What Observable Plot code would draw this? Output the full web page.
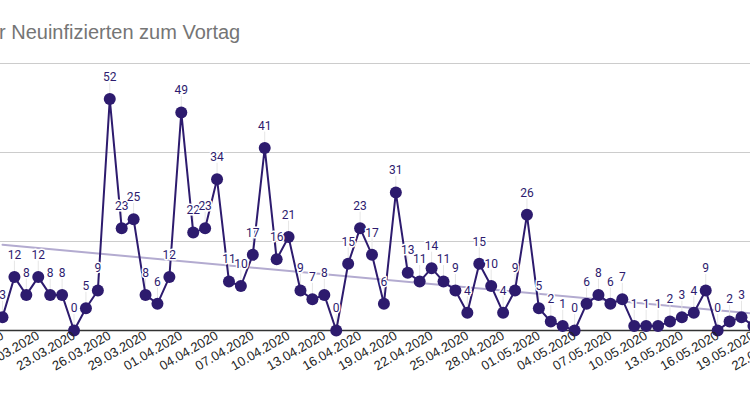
<!DOCTYPE html>
<html>
<head>
<meta charset="utf-8">
<script src="https://cdn.jsdelivr.net/npm/d3@7"></script>
<script src="https://cdn.jsdelivr.net/npm/@observablehq/plot@0.6"></script>
<style>
  html, body { margin: 0; padding: 0; background: #fff; width: 750px; height: 393px; overflow: hidden; }
  #wrap { position: relative; width: 750px; height: 393px; }
  #title { position: absolute; left: -1px; top: 21px; font-family: "Liberation Sans", Arial, sans-serif; font-size: 20px; line-height: 23px; color: #757575; white-space: nowrap; }
  #chart { position: absolute; left: 0; top: 0; }
  #chart svg { overflow: hidden; }
</style>
</head>
<body>
<div id="wrap">
  <div id="chart"></div>
  <div id="title">r Neuinfizierten zum Vortag</div>
</div>
<script>
const dates = [
  "17.03.2020","18.03.2020","19.03.2020","20.03.2020","21.03.2020","22.03.2020","23.03.2020","24.03.2020",
  "25.03.2020","26.03.2020","27.03.2020","28.03.2020","29.03.2020","30.03.2020","31.03.2020","01.04.2020",
  "02.04.2020","03.04.2020","04.04.2020","05.04.2020","06.04.2020","07.04.2020","08.04.2020","09.04.2020",
  "10.04.2020","11.04.2020","12.04.2020","13.04.2020","14.04.2020","15.04.2020","16.04.2020","17.04.2020",
  "18.04.2020","19.04.2020","20.04.2020","21.04.2020","22.04.2020","23.04.2020","24.04.2020","25.04.2020",
  "26.04.2020","27.04.2020","28.04.2020","29.04.2020","30.04.2020","01.05.2020","02.05.2020","03.05.2020",
  "04.05.2020","05.05.2020","06.05.2020","07.05.2020","08.05.2020","09.05.2020","10.05.2020","11.05.2020",
  "12.05.2020","13.05.2020","14.05.2020","15.05.2020","16.05.2020","17.05.2020","18.05.2020","19.05.2020"
];
const values = [
  3,12,8,12,8,8,0,5,
  9,52,23,25,8,6,12,49,
  22,23,34,11,10,17,41,16,
  21,9,7,8,0,15,23,17,
  6,31,13,11,14,11,9,4,
  15,10,4,9,26,5,2,1,
  0,6,8,6,7,1,1,1,
  2,3,4,9,0,2,3,1
];
const tickLabels = [
  "17.03.2020","20.03.2020","23.03.2020","26.03.2020","29.03.2020","01.04.2020","04.04.2020","07.04.2020",
  "10.04.2020","13.04.2020","16.04.2020","19.04.2020","22.04.2020","25.04.2020","28.04.2020","01.05.2020",
  "04.05.2020","07.05.2020","10.05.2020","13.05.2020","16.05.2020","19.05.2020","22.05.2020"
];
const gridValues = [20, 40, 60];
const xDomain = ["17.03.2020", "18.05.2020"];
const yDomain = [0, 60];

const parse = d3.utcParse("%d.%m.%Y");
const data = dates.map((d, i) => ({date: parse(d), value: values[i]}));
const ticks = tickLabels.map(parse);

const ink = "#2d1b6e";
const chart = Plot.plot({
  width: 750,
  height: 393,
  marginLeft: 0,
  marginRight: 0,
  marginTop: 63,
  marginBottom: 63,
  style: {fontFamily: "Roboto, sans-serif", background: "#fff"},
  x: {type: "utc", domain: xDomain.map(parse), range: [2, 741]},
  y: {domain: yDomain, range: [330, 63], axis: null},
  marks: [
    Plot.ruleY(gridValues, {stroke: "#cccccc", strokeWidth: 1}),
    Plot.linearRegressionY(data, {x: "date", y: "value", stroke: "#b3abd0", strokeWidth: 2, ci: 0}),
    Plot.ruleX(data, {x: "date", y1: "value", y2: "value", insetTop: -16, insetBottom: 0, stroke: "#e6e6e6", strokeWidth: 1}),
    Plot.ruleY([0], {stroke: "#333333", strokeWidth: 1.5}),
    Plot.line(data, {x: "date", y: "value", stroke: ink, strokeWidth: 2}),
    Plot.dot(data, {x: "date", y: "value", r: 6, fill: ink, stroke: "none"}),
    Plot.text(data, {x: "date", y: "value", text: d => String(d.value), dy: -22, fill: ink, fontSize: 12, fontFamily: "Roboto, sans-serif", stroke: "white", strokeWidth: 3, paintOrder: "stroke"}),
    Plot.axisX({ticks: ticks, tickFormat: d3.utcFormat("%d.%m.%Y"), tickRotate: -30, tickSize: 0, tickPadding: 4, fontSize: 13, fill: "#222222", fontFamily: "'Liberation Sans', Arial, sans-serif", label: null})
  ]
});
document.getElementById("chart").appendChild(chart);
</script>
</body>
</html>
